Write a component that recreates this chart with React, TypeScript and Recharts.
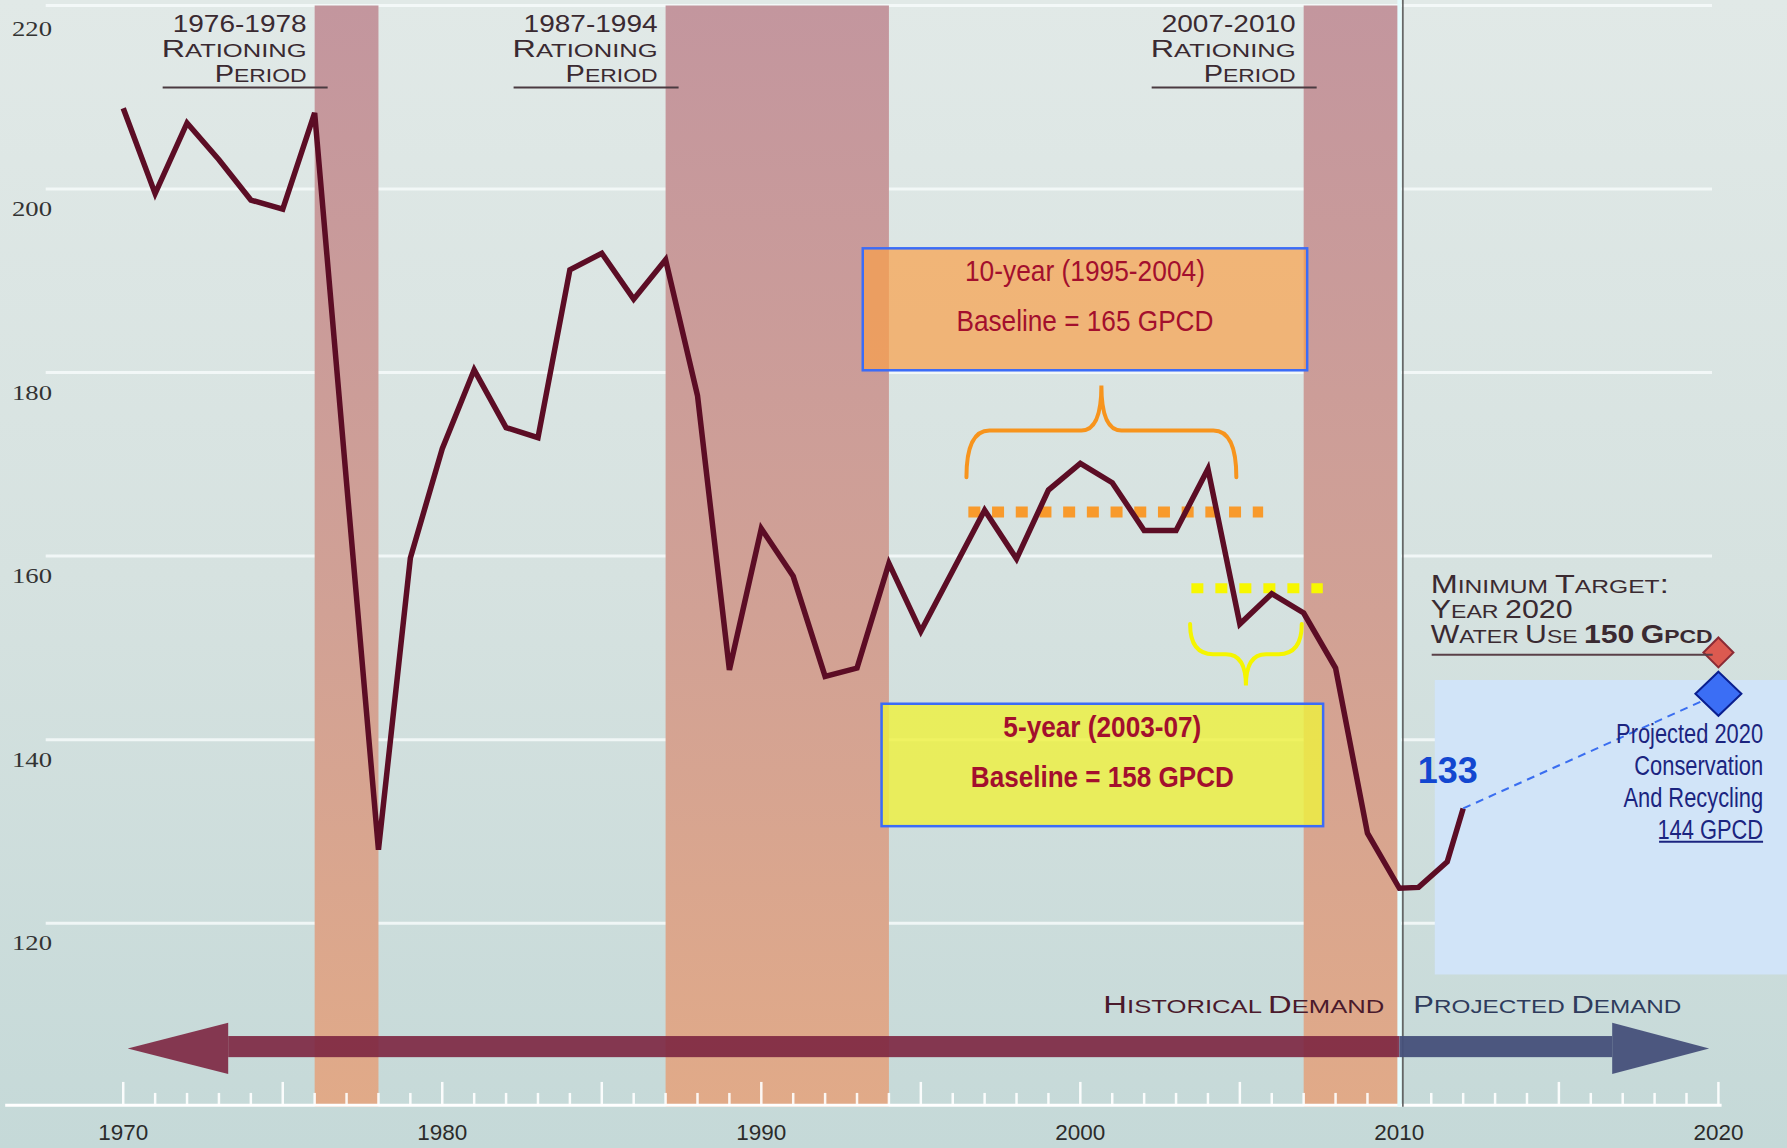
import {
  ComposedChart,
  Line,
  XAxis,
  YAxis,
  ReferenceArea,
  ReferenceLine,
  ReferenceDot,
} from 'recharts'

// per-capita water use (GPCD)
const years = [
  1970, 1971, 1972, 1973, 1974, 1975, 1976, 1977, 1978, 1979,
  1980, 1981, 1982, 1983, 1984, 1985, 1986, 1987, 1988, 1989,
  1990, 1991, 1992, 1993, 1994, 1995, 1996, 1997, 1998, 1999,
  2000, 2001, 2002, 2003, 2004, 2005, 2006, 2007, 2008, 2009,
  2010, 2010.6, 2011.5, 2012,
]
const gpcd = [
  208.8, 199.5, 207.2, 203.2, 198.8, 197.8, 208.3, 168, 128, 159.8,
  171.7, 180.3, 174, 172.9, 191.2, 193, 188, 192.3, 177.5, 147.6,
  163, 157.8, 146.9, 147.8, 159.2, 151.8, 158.4, 165, 159.7, 167.2,
  170.1, 168, 162.8, 162.8, 169.5, 152.6, 155.9, 153.8, 147.8, 129.8,
  123.8, 123.9, 126.7, 132.5,
]
const projYears = [2012, 2020]
const projGpcd = [132.5, 145]

const targetYear = 2020
const targetGpcd = 149.5

const rationStart = [1976, 1987, 2007]
const rationEnd = [1978, 1994, 2010]
const rationLabels = ['1976-1978', '1987-1994', '2007-2010']

const gridValues = [120, 140, 160, 180, 200, 220]
const decadeTicks = [1970, 1980, 1990, 2000, 2010, 2020]
const tickYears = Array.from({ length: 51 }, (_, i) => 1970 + i)

const tenYearBaseline = 164.8
const tenYearSpan = [1996.49, 2005.73]
const fiveYearBaseline = 156.5
const fiveYearSpan = [2003.48, 2007.6]

const projLines = ['Projected 2020', 'Conservation', 'And Recycling', '144 GPCD']

const mainData = years.map((y, i) => ({ year: y, gpcd: gpcd[i] }))
const projData = projYears.map((y, i) => ({ year: y, gpcd: projGpcd[i] }))

const capsFont = "'Liberation Sans', Arial, sans-serif"
const narrowFont = "'Liberation Sans Narrow', 'Arial Narrow', 'Liberation Sans', sans-serif"
const serifFont = "'Liberation Serif', 'DejaVu Serif', serif"

type CapsProps = {
  x: number
  y: number
  text: string
  big: number
  small: number
  anchor?: 'start' | 'end' | 'middle'
  len?: number
  fill?: string
  boldFrom?: number
}

function CapsText({ x, y, text, big, small, anchor = 'start', len, fill = '#3a2a31', boldFrom }: CapsProps) {
  const spans: { s: string; size: number; bold: boolean }[] = []
  let wordStart = true
  for (let i = 0; i < text.length; i++) {
    const ch = text[i]
    const isLetter = /[A-Za-z]/.test(ch)
    const size = ch === ' ' ? small : !isLetter || wordStart ? big : small
    const bold = boldFrom !== undefined && i >= boldFrom
    const last = spans[spans.length - 1]
    if (last && last.size === size && last.bold === bold) last.s += ch
    else spans.push({ s: ch, size, bold })
    wordStart = ch === ' '
  }
  return (
    <text
      x={x}
      y={y}
      textAnchor={anchor}
      fill={fill}
      fontFamily={capsFont}
      textLength={len}
      lengthAdjust="spacingAndGlyphs"
      style={{ whiteSpace: 'pre' }}
    >
      {spans.map((s, i) => (
        <tspan key={i} fontSize={s.size} fontWeight={s.bold ? 700 : 400}>
          {s.s}
        </tspan>
      ))}
    </text>
  )
}

const BandShape = (p: any) => (
  <g>
    <defs>
      <linearGradient id="bandGrad" x1="0" y1="0" x2="0" y2="1">
        <stop offset="0%" stopColor="#c3969e" />
        <stop offset="55%" stopColor="#d1a195" />
        <stop offset="100%" stopColor="#e1aa88" />
      </linearGradient>
    </defs>
    <rect x={p.x} y={p.y} width={p.width} height={p.height} fill="url(#bandGrad)" />
  </g>
)

function rationingShape(label: string) {
  return (p: any) => {
    const right = p.cx - 8
    return (
      <g>
        <CapsText x={right} y={p.cy + 26} text={label} big={23} small={18} anchor="end" len={134} />
        <CapsText x={right} y={p.cy + 51} text="RATIONING" big={24} small={19} anchor="end" len={145} />
        <CapsText x={right} y={p.cy + 76} text="PERIOD" big={24} small={19} anchor="end" len={92} />
        <line x1={p.cx - 152} x2={p.cx + 13} y1={p.cy + 82} y2={p.cy + 82} stroke="#4a3a40" strokeWidth={2} />
      </g>
    )
  }
}

function boxShape(fill: string, opacity: number, lines: string[], lens: number[], size: number, weight: number) {
  return (p: any) => (
    <g>
      <rect x={p.x} y={p.y} width={p.width} height={p.height} fill={fill} fillOpacity={opacity} stroke="#3b6cf7" strokeWidth={2.5} />
      {lines.map((t, i) => (
        <text
          key={t}
          x={p.x + p.width / 2}
          y={p.y + 33 + i * 50}
          textAnchor="middle"
          fontFamily={narrowFont}
          fontSize={size}
          fontWeight={weight}
          fill="#a30f2d"
          textLength={lens[i]}
          lengthAdjust="spacingAndGlyphs"
        >
          {t}
        </text>
      ))}
    </g>
  )
}

function braceShape(color: string, up: boolean) {
  return (p: any) => {
    const { x, y, width: w, height: h } = p
    const cx = x + w / 2
    const r1 = 23
    const r2 = 20
    const hm = y + h * 0.49
    const yb = y + h
    const d = up
      ? `M${x},${yb} Q${x},${hm} ${x + r1},${hm} L${cx - r2},${hm} Q${cx},${hm} ${cx},${y} Q${cx},${hm} ${cx + r2},${hm} L${x + w - r1},${hm} Q${x + w},${hm} ${x + w},${yb}`
      : `M${x},${y} Q${x},${hm} ${x + r1},${hm} L${cx - r2},${hm} Q${cx},${hm} ${cx},${yb} Q${cx},${hm} ${cx + r2},${hm} L${x + w - r1},${hm} Q${x + w},${hm} ${x + w},${y}`
    return <path d={d} fill="none" stroke={color} strokeWidth={4} strokeLinecap="round" />
  }
}

const headLeft = (fill: string, opacity: number) => (p: any) => (
  <polygon
    points={`${p.x},${p.y + p.height / 2} ${p.x + p.width},${p.y} ${p.x + p.width},${p.y + p.height}`}
    fill={fill}
    fillOpacity={opacity}
  />
)
const headRight = (fill: string, opacity: number) => (p: any) => (
  <polygon
    points={`${p.x + p.width},${p.y + p.height / 2} ${p.x},${p.y} ${p.x},${p.y + p.height}`}
    fill={fill}
    fillOpacity={opacity}
  />
)
const plainRect = (fill: string, opacity: number) => (p: any) => (
  <rect x={p.x} y={p.y} width={p.width} height={p.height} fill={fill} fillOpacity={opacity} />
)

const diamond = (hw: number, hh: number, fill: string, stroke: string) => (p: any) => (
  <polygon
    points={`${p.cx},${p.cy - hh} ${p.cx + hw},${p.cy} ${p.cx},${p.cy + hh} ${p.cx - hw},${p.cy}`}
    fill={fill}
    stroke={stroke}
    strokeWidth={2}
  />
)

const targetLabel = (p: any) => (
  <g>
    <CapsText x={p.cx + 1} y={p.cy - 55} text="MINIMUM TARGET:" big={25} small={19} len={238} />
    <CapsText x={p.cx + 1} y={p.cy - 30} text="YEAR 2020" big={25} small={19} len={142} />
    <CapsText x={p.cx + 1} y={p.cy - 5} text="WATER USE 150 GPCD" big={25} small={19} len={282} boldFrom={10} />
    <line x1={p.cx + 2} x2={p.cx + 283} y1={p.cy + 7} y2={p.cy + 7} stroke="#5a4048" strokeWidth={2} />
  </g>
)

// condensed look via horizontal scaling around the right edge
const projLabel = (p: any) => (
  <g>
    <g transform={`translate(${p.cx},0) scale(0.81,1) translate(${-p.cx},0)`}>
      {projLines.map((t, i) => (
        <text
          key={t}
          x={p.cx}
          y={p.cy + 49 + i * 32}
          textAnchor="end"
          fontFamily={capsFont}
          fontSize={27}
          fill="#1b2480"
        >
          {t}
        </text>
      ))}
    </g>
    <line x1={p.cx - 104} x2={p.cx} y1={p.cy + 148} y2={p.cy + 148} stroke="#1b2480" strokeWidth={2} />
  </g>
)

const label133 = (p: any) => (
  <text
    x={p.cx}
    y={p.cy + 13}
    textAnchor="middle"
    fontFamily="'Liberation Sans', Arial, sans-serif"
    fontWeight={700}
    fontSize={37}
    fill="#1347d0"
    textLength={60}
    lengthAdjust="spacingAndGlyphs"
  >
    133
  </text>
)

const demandLabel = (p: any) => (
  <g>
    <CapsText x={p.cx - 15} y={p.cy + 8} text="HISTORICAL DEMAND" big={23} small={18} anchor="end" len={281} fill="#4a1a2c" />
    <CapsText x={p.cx + 14} y={p.cy + 8} text="PROJECTED DEMAND" big={23} small={18} len={268} fill="#2f3b5c" />
  </g>
)

const XTick = (p: any) => (
  <text
    x={p.x}
    y={p.y + 33}
    textAnchor="middle"
    fontFamily={narrowFont}
    fontSize={22}
    fill="#2b2b2b"
    textLength={50}
    lengthAdjust="spacingAndGlyphs"
  >
    {p.payload.value}
  </text>
)

const YTick = (p: any) => (
  <text
    x={12}
    y={p.y + 27}
    textAnchor="start"
    fontFamily={serifFont}
    fontSize={21}
    fill="#333"
    textLength={40}
    lengthAdjust="spacingAndGlyphs"
  >
    {p.payload.value}
  </text>
)

export default function App() {
  return (
    <div
      style={{
        position: 'absolute',
        top: 0,
        left: 0,
        width: 1787,
        height: 1148,
        background: 'linear-gradient(180deg, #e1e9e7 0%, #d6e2e0 50%, #c5d9d8 100%)',
        overflow: 'hidden',
      }}
    >
      <ComposedChart width={1787} height={1148} margin={{ top: 0, right: 0, bottom: 0, left: 2 }}>
        <XAxis
          dataKey="year"
          type="number"
          domain={[1966.2, 2022.15]}
          allowDataOverflow
          ticks={decadeTicks}
          interval={0}
          tickLine={false}
          axisLine={false}
          tickSize={0}
          tickMargin={0}
          height={41.3}
          tick={XTick}
        />
        <YAxis
          type="number"
          domain={[100, 220.6]}
          allowDataOverflow
          ticks={gridValues}
          mirror
          tickLine={false}
          axisLine={false}
          tick={YTick}
        />

        {gridValues.map((v) => (
          <ReferenceLine
            key={`g${v}`}
            segment={[{ x: 1967.57, y: v }, { x: 2019.8, y: v }]}
            stroke="#f6fafa"
            strokeOpacity={0.85}
            strokeWidth={3}
            zIndex={1}
          />
        ))}

        {rationStart.map((s, i) => (
          <ReferenceArea
            key={`band${s}`}
            x1={s}
            x2={rationEnd[i]}
            y1={100}
            y2={220}
            shape={BandShape}
            zIndex={2}
          />
        ))}

        <ReferenceLine
          segment={[{ x: 1966.3, y: 100.15 }, { x: 2020.1, y: 100.15 }]}
          stroke="#ffffff"
          strokeWidth={3}
          zIndex={3}
        />
        {tickYears.map((yr) => (
          <ReferenceLine
            key={`t${yr}`}
            segment={[{ x: yr, y: 100.15 }, { x: yr, y: yr % 5 === 0 ? 102.7 : 101.5 }]}
            stroke="#ffffff"
            strokeOpacity={0.9}
            strokeWidth={2.5}
            zIndex={3}
          />
        ))}

        <ReferenceLine x={2010} stroke="#e4fbfd" strokeWidth={4} zIndex={4} />
        <ReferenceLine x={2010.11} stroke="#555" strokeWidth={1.5} zIndex={4} />

        <ReferenceArea x1={2011.11} x2={2022.15} y1={114.41} y2={146.5} shape={plainRect('#d1e4f8', 1)} zIndex={5} />
        <ReferenceArea
          x1={1993.18}
          x2={2007.11}
          y1={180.25}
          y2={193.54}
          shape={boxShape('#f9a048', 0.7, ['10-year (1995-2004)', 'Baseline = 165 GPCD'], [240, 257], 29, 400)}
          zIndex={5}
        />
        <ReferenceArea
          x1={1993.77}
          x2={2007.61}
          y1={130.57}
          y2={143.91}
          shape={boxShape('#eef040', 0.82, ['5-year (2003-07)', 'Baseline = 158 GPCD'], [198, 263], 30, 700)}
          zIndex={5}
        />

        <ReferenceLine
          segment={[{ x: tenYearSpan[0], y: tenYearBaseline }, { x: tenYearSpan[1], y: tenYearBaseline }]}
          stroke="#f89a2c"
          strokeWidth={11}
          strokeDasharray="12 11.7"
          zIndex={6}
        />
        <ReferenceLine
          segment={[{ x: fiveYearSpan[0], y: fiveYearBaseline }, { x: fiveYearSpan[1], y: fiveYearBaseline }]}
          stroke="#f7f700"
          strokeWidth={10}
          strokeDasharray="12 12"
          zIndex={6}
        />
        <ReferenceArea x1={1996.43} x2={2004.89} y1={168.6} y2={178.6} shape={braceShape('#f7941d', true)} zIndex={6} />
        <ReferenceArea x1={2003.44} x2={2006.94} y1={145.9} y2={152.6} shape={braceShape('#f5f500', false)} zIndex={6} />

        <ReferenceArea x1={1970.14} x2={1973.29} y1={103.56} y2={109.15} shape={headLeft('#7c2540', 0.9)} zIndex={6} />
        <ReferenceArea x1={1973.29} x2={2010} y1={105.4} y2={107.7} shape={plainRect('#7c2540', 0.9)} zIndex={6} />
        <ReferenceArea x1={2010} x2={2016.67} y1={105.4} y2={107.7} shape={plainRect('#46507a', 0.95)} zIndex={6} />
        <ReferenceArea x1={2016.67} x2={2019.71} y1={103.56} y2={109.15} shape={headRight('#46507a', 0.95)} zIndex={6} />

        <Line
          data={mainData}
          dataKey="gpcd"
          type="linear"
          stroke="#5c0d25"
          strokeWidth={5.5}
          dot={false}
          activeDot={false}
          isAnimationActive={false}
        />
        <Line
          data={projData}
          dataKey="gpcd"
          type="linear"
          stroke="#3a6ef0"
          strokeWidth={2}
          strokeDasharray="8 6"
          dot={false}
          activeDot={false}
          isAnimationActive={false}
        />

        <ReferenceDot x={targetYear} y={targetGpcd} shape={diamond(15, 15, '#dc5a50', '#8b2b35')} zIndex={600} />
        <ReferenceDot x={projYears[1]} y={projGpcd[1]} shape={diamond(23, 22, '#3b6ef5', '#0a1f8f')} zIndex={600} />

        {rationStart.map((s, i) => (
          <ReferenceDot key={`rl${s}`} x={s} y={220} shape={rationingShape(rationLabels[i])} zIndex={700} />
        ))}
        <ReferenceDot x={2010.95} y={150} shape={targetLabel} zIndex={700} />
        <ReferenceDot x={2021.4} y={145} shape={projLabel} zIndex={700} />
        <ReferenceDot x={2011.52} y={136.7} shape={label133} zIndex={700} />
        <ReferenceDot x={2010} y={111.1} shape={demandLabel} zIndex={700} />
      </ComposedChart>
    </div>
  )
}
